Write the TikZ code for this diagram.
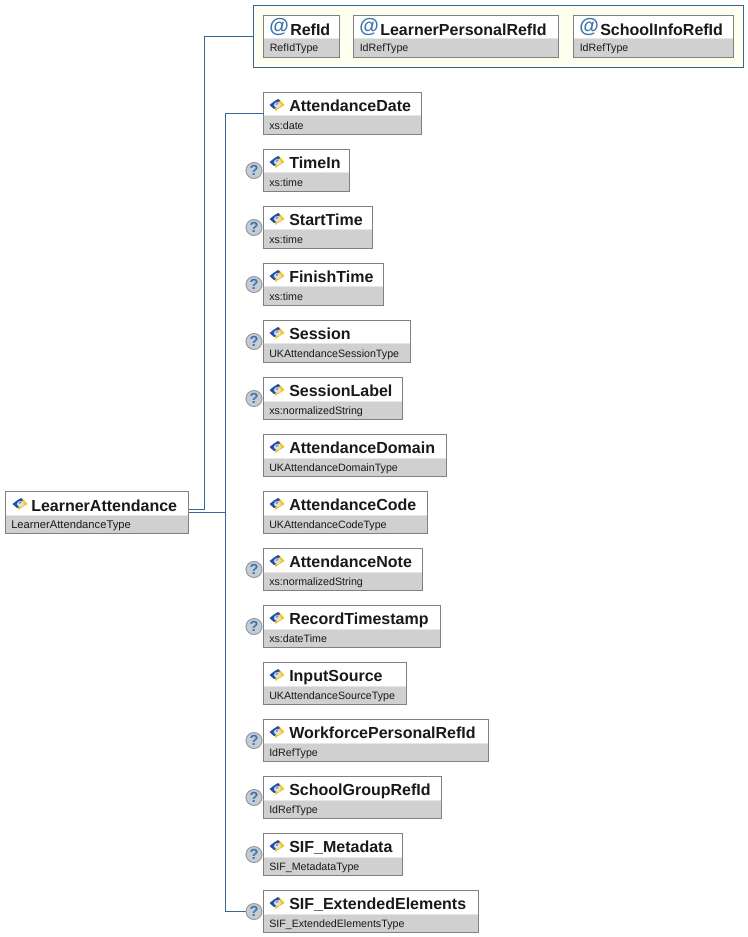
\documentclass[tikz,border=0pt]{standalone}
\usepackage{fontspec}
\setmainfont{Liberation Sans}
\definecolor{linkblue}{HTML}{336699}
\definecolor{boxedge}{HTML}{808080}
\definecolor{band}{HTML}{D0D0D0}
\definecolor{bandtop}{HTML}{E6E6E6}
\definecolor{groupfill}{HTML}{FFFFF0}
\definecolor{iconblue}{HTML}{1F4FA8}
\definecolor{iconyellow}{HTML}{F5C518}
\definecolor{atblue}{HTML}{3E74AE}
\definecolor{optfill}{HTML}{C4CCD6}
\definecolor{optedge}{HTML}{9A9A9A}
\tikzset{
  x=0.75pt,y=-0.75pt,
  link/.style={draw=linkblue,line width=0.75pt},
  boxframe/.style={draw=boxedge,line width=0.75pt},
  titletext/.style={anchor=base west,inner sep=0pt,font=\fontsize{12}{14}\selectfont\bfseries,text=black!90},
  typetext/.style={anchor=base west,inner sep=0pt,font=\fontsize{8}{10}\selectfont,text=black!90},
  optmark/.style={circle,draw=optedge,fill=optfill,line width=0.75pt,minimum size=12pt,inner sep=0pt,font=\fontsize{11}{11}\selectfont\bfseries,text=atblue},
  groupbox/.style={draw=linkblue,fill=groupfill,line width=0.75pt},
}
% \ebox{name}{left}{right}{top}
\newcommand{\ebox}[4]{%
  \fill[white] (#2,#4) rectangle (#3,#4+23);
  \fill[bandtop] (#2,#4+23) rectangle (#3,#4+25);
  \fill[band] (#2,#4+24) rectangle (#3,#4+42);
  \path[boxframe] (#2,#4) rectangle (#3,#4+42);
  \coordinate (#1) at (#2,#4+21);
}
\newcommand{\elicon}[2]{%
  \begin{scope}[shift={(#1,#2)}]
    \fill[iconyellow] (-2,6) -- (7.5,0) -- (2,-6) -- (-1,-3) -- cycle;
    \fill[iconblue] (-7.5,0) -- (-3,-3.5) -- (1,-6) -- (3,-4) -- (-2,0) -- (-1,3) -- (-3,4) -- cycle;
    \fill[black!12] (0.5,0) ellipse (3.6 and 3);
    \fill[iconblue!60!white] (-1.5,-1) -- (0.5,-2.6) -- (1.5,-1.6) -- (-0.5,0.2) -- cycle;
  \end{scope}%
}
% \element{name}{right}{top}{title}{type}
\newcommand{\element}[5]{%
  \ebox{#1}{263.5}{#2}{#3}
  \elicon{277}{#3+12.5}
  \node[titletext] (#1T) at (289,#3+19) {#4};
  \node[typetext] (#1S) at (269,#3+37) {#5};
}
\newcommand{\optional}[2]{\node[optmark] (#1Q) at (254,#2+21) {?};}
\newcommand{\attribute}[6]{%
  \ebox{#1}{#2}{#3}{15.5}
  \node[anchor=base west,inner sep=0pt,font=\fontsize{15}{15}\selectfont\bfseries,text=atblue] (#1A) at (#2+5.5,32.5) {@};
  \node[titletext] (#1T) at (#2+#4,36) {#5};
  \node[typetext] (#1S) at (#2+6,52) {#6};
}
\begin{document}
\begin{tikzpicture}
\useasboundingbox (0,0) rectangle (748,937);
\fill[white] (0,0) rectangle (748,937);
% attribute group
\path[groupbox] (253.5,5.5) rectangle (743.5,67.5);
\coordinate (group) at (253.5,36.5);
\attribute{RefId}{263.5}{339.5}{26.5}{RefId}{RefIdType}
\attribute{LearnerPersonalRefId}{353.5}{558.5}{26.5}{LearnerPersonalRefId}{IdRefType}
\attribute{SchoolInfoRefId}{573.5}{733.5}{26.5}{SchoolInfoRefId}{IdRefType}
% root
\fill[white] (5.5,491.5) rectangle (188.5,514.5);
\fill[bandtop] (5.5,514.5) rectangle (188.5,516.5);
\fill[band] (5.5,515.5) rectangle (188.5,533.5);
\path[boxframe] (5.5,491.5) rectangle (188.5,533.5);
\coordinate (rootA) at (188.5,509.5);
\coordinate (rootB) at (188.5,512.5);
\elicon{20}{504}
\node[titletext] (rootT) at (31,511) {LearnerAttendance};
\node[typetext,font=\fontsize{8.4}{10}\selectfont] (rootS) at (11,528.5) {LearnerAttendanceType};
% elements
\element{AttendanceDate}{421.5}{92.5}{AttendanceDate}{xs:date}
\element{TimeIn}{349.5}{149.5}{TimeIn}{xs:time}
\element{StartTime}{372.5}{206.5}{StartTime}{xs:time}
\element{FinishTime}{383.5}{263.5}{FinishTime}{xs:time}
\element{Session}{410.5}{320.5}{Session}{UKAttendanceSessionType}
\element{SessionLabel}{402.5}{377.5}{SessionLabel}{xs:normalizedString}
\element{AttendanceDomain}{446.5}{434.5}{AttendanceDomain}{UKAttendanceDomainType}
\element{AttendanceCode}{427.5}{491.5}{AttendanceCode}{UKAttendanceCodeType}
\element{AttendanceNote}{422.5}{548.5}{AttendanceNote}{xs:normalizedString}
\element{RecordTimestamp}{440.5}{605.5}{RecordTimestamp}{xs:dateTime}
\element{InputSource}{406.5}{662.5}{InputSource}{UKAttendanceSourceType}
\element{WorkforcePersonalRefId}{488.5}{719.5}{WorkforcePersonalRefId}{IdRefType}
\element{SchoolGroupRefId}{441.5}{776.5}{SchoolGroupRefId}{IdRefType}
\element{SIFMetadata}{402.5}{833.5}{SIF\_Metadata}{SIF\_MetadataType}
\element{SIFExtended}{478.5}{890.5}{SIF\_ExtendedElements}{SIF\_ExtendedElementsType}
% connectors
\coordinate (busA) at (204.5,509.5);
\coordinate (busB) at (225.5,512.5);
\draw[link] (rootA) -- (busA) |- (group);
\draw[link] (rootB) -- (busB);
\draw[link] (busB) |- (AttendanceDate);
\coordinate (lastQ) at (254,911.5);
\draw[link] (busB) |- (lastQ);
% optional markers
\optional{TimeIn}{149.5}
\optional{StartTime}{206.5}
\optional{FinishTime}{263.5}
\optional{Session}{320.5}
\optional{SessionLabel}{377.5}
\optional{AttendanceNote}{548.5}
\optional{RecordTimestamp}{605.5}
\optional{WorkforcePersonalRefId}{719.5}
\optional{SchoolGroupRefId}{776.5}
\optional{SIFMetadata}{833.5}
\optional{SIFExtended}{890.5}
\end{tikzpicture}
\end{document}
